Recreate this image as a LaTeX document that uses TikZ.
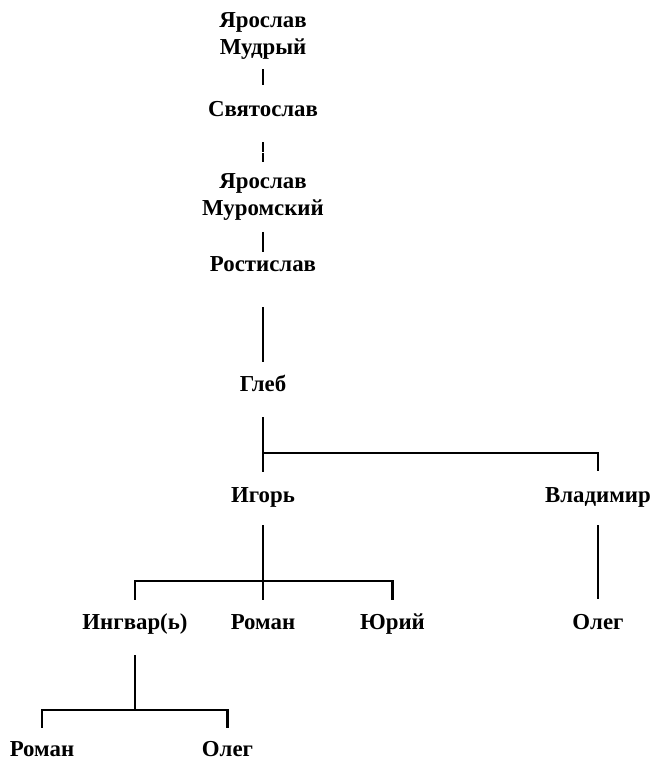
\documentclass[tikz,border=0pt]{standalone}
\usepackage{fontspec}
\setmainfont{Liberation Serif}
\usetikzlibrary{calc}

\begin{document}
\begin{tikzpicture}[
  person/.style={font=\bfseries\fontsize{13}{15.5}\selectfont, inner sep=0pt,
                 anchor=base, text height=0.30cm, text depth=0.10cm},
  longname/.style={font=\bfseries\fontsize{13}{15.5}\selectfont, inner sep=0pt,
                   anchor=north, align=center},
  link/.style={line width=1.2pt},
  thinlink/.style={line width=0.6pt},
]
\useasboundingbox (0,0) rectangle (13.10,15.30);

% -------------------------------------------------------------------------
% Main line: from Yaroslav the Wise down to Gleb.
% -------------------------------------------------------------------------
\node[longname] (yarm) at (5.26,15.06) {Ярослав\\Мудрый};
\node[person] (svy) at (5.26,12.96) {Святослав};
\node[longname] (yarmur) at (5.26,11.84) {Ярослав\\Муромский};
\node[person] (rost) at (5.26,9.86) {Ростислав};
\node[person] (gleb) at (5.26,7.46) {Глеб};

\draw[link, shorten <=0.19cm, shorten >=0.34cm] (yarm.south) -- (svy.north);
\draw[link, dash pattern=on 5.3pt off 0.9pt, shorten <=0.40cm,
      shorten >=0.22cm] (svy.south) -- (yarmur.north);
\draw[link, shorten <=0.22cm, shorten >=0.10cm] (yarmur.south) -- (rost.north);
\draw[link, shorten <=0.60cm, shorten >=0.30cm] (rost.south) -- (gleb.north);

% -------------------------------------------------------------------------
% Gleb's sons.
% -------------------------------------------------------------------------
\node[person] (igor) at (5.26,5.25) {Игорь};
\node[person] (vlad) at (11.96,5.25) {Владимир};

\coordinate (gleb-fork) at (5.26,6.24);
\draw[link, shorten <=0.40cm, shorten >=0.31cm] (gleb.south) -- (igor.north);
\draw[link, shorten >=0.33cm] (gleb-fork) -| (vlad.north);

% -------------------------------------------------------------------------
% Igor's and Vladimir's sons.
% -------------------------------------------------------------------------
\node[person] (ingvar) at (2.70,2.70) {Ингвар(ь)};
\node[person] (roman1) at (5.26,2.70) {Роман};
\node[person] (yuri) at (7.85,2.70) {Юрий};
\node[person] (oleg1) at (11.96,2.70) {Олег};

\coordinate (igor-fork) at (5.26,3.68);
\draw[thinlink, shorten <=0.35cm] (igor.south) -- (igor-fork);
\draw[link, shorten >=0.30cm] (igor-fork) -- (roman1.north);
\draw[link, shorten <=0.30cm, shorten >=0.30cm]
  (ingvar.north) |- (igor-fork) -| (yuri.north);
\draw[link, shorten <=0.35cm, shorten >=0.32cm] (vlad.south) -- (oleg1.north);

% -------------------------------------------------------------------------
% Ingvar's sons.
% -------------------------------------------------------------------------
\node[person] (roman2) at (0.84,0.16) {Роман};
\node[person] (oleg2) at (4.55,0.16) {Олег};

\coordinate (ingvar-fork) at (2.70,1.10);
\draw[link, shorten <=0.40cm] (ingvar.south) -- (ingvar-fork);
\draw[link, shorten <=0.28cm, shorten >=0.28cm]
  (roman2.north) |- (ingvar-fork) -| (oleg2.north);

\end{tikzpicture}
\end{document}
